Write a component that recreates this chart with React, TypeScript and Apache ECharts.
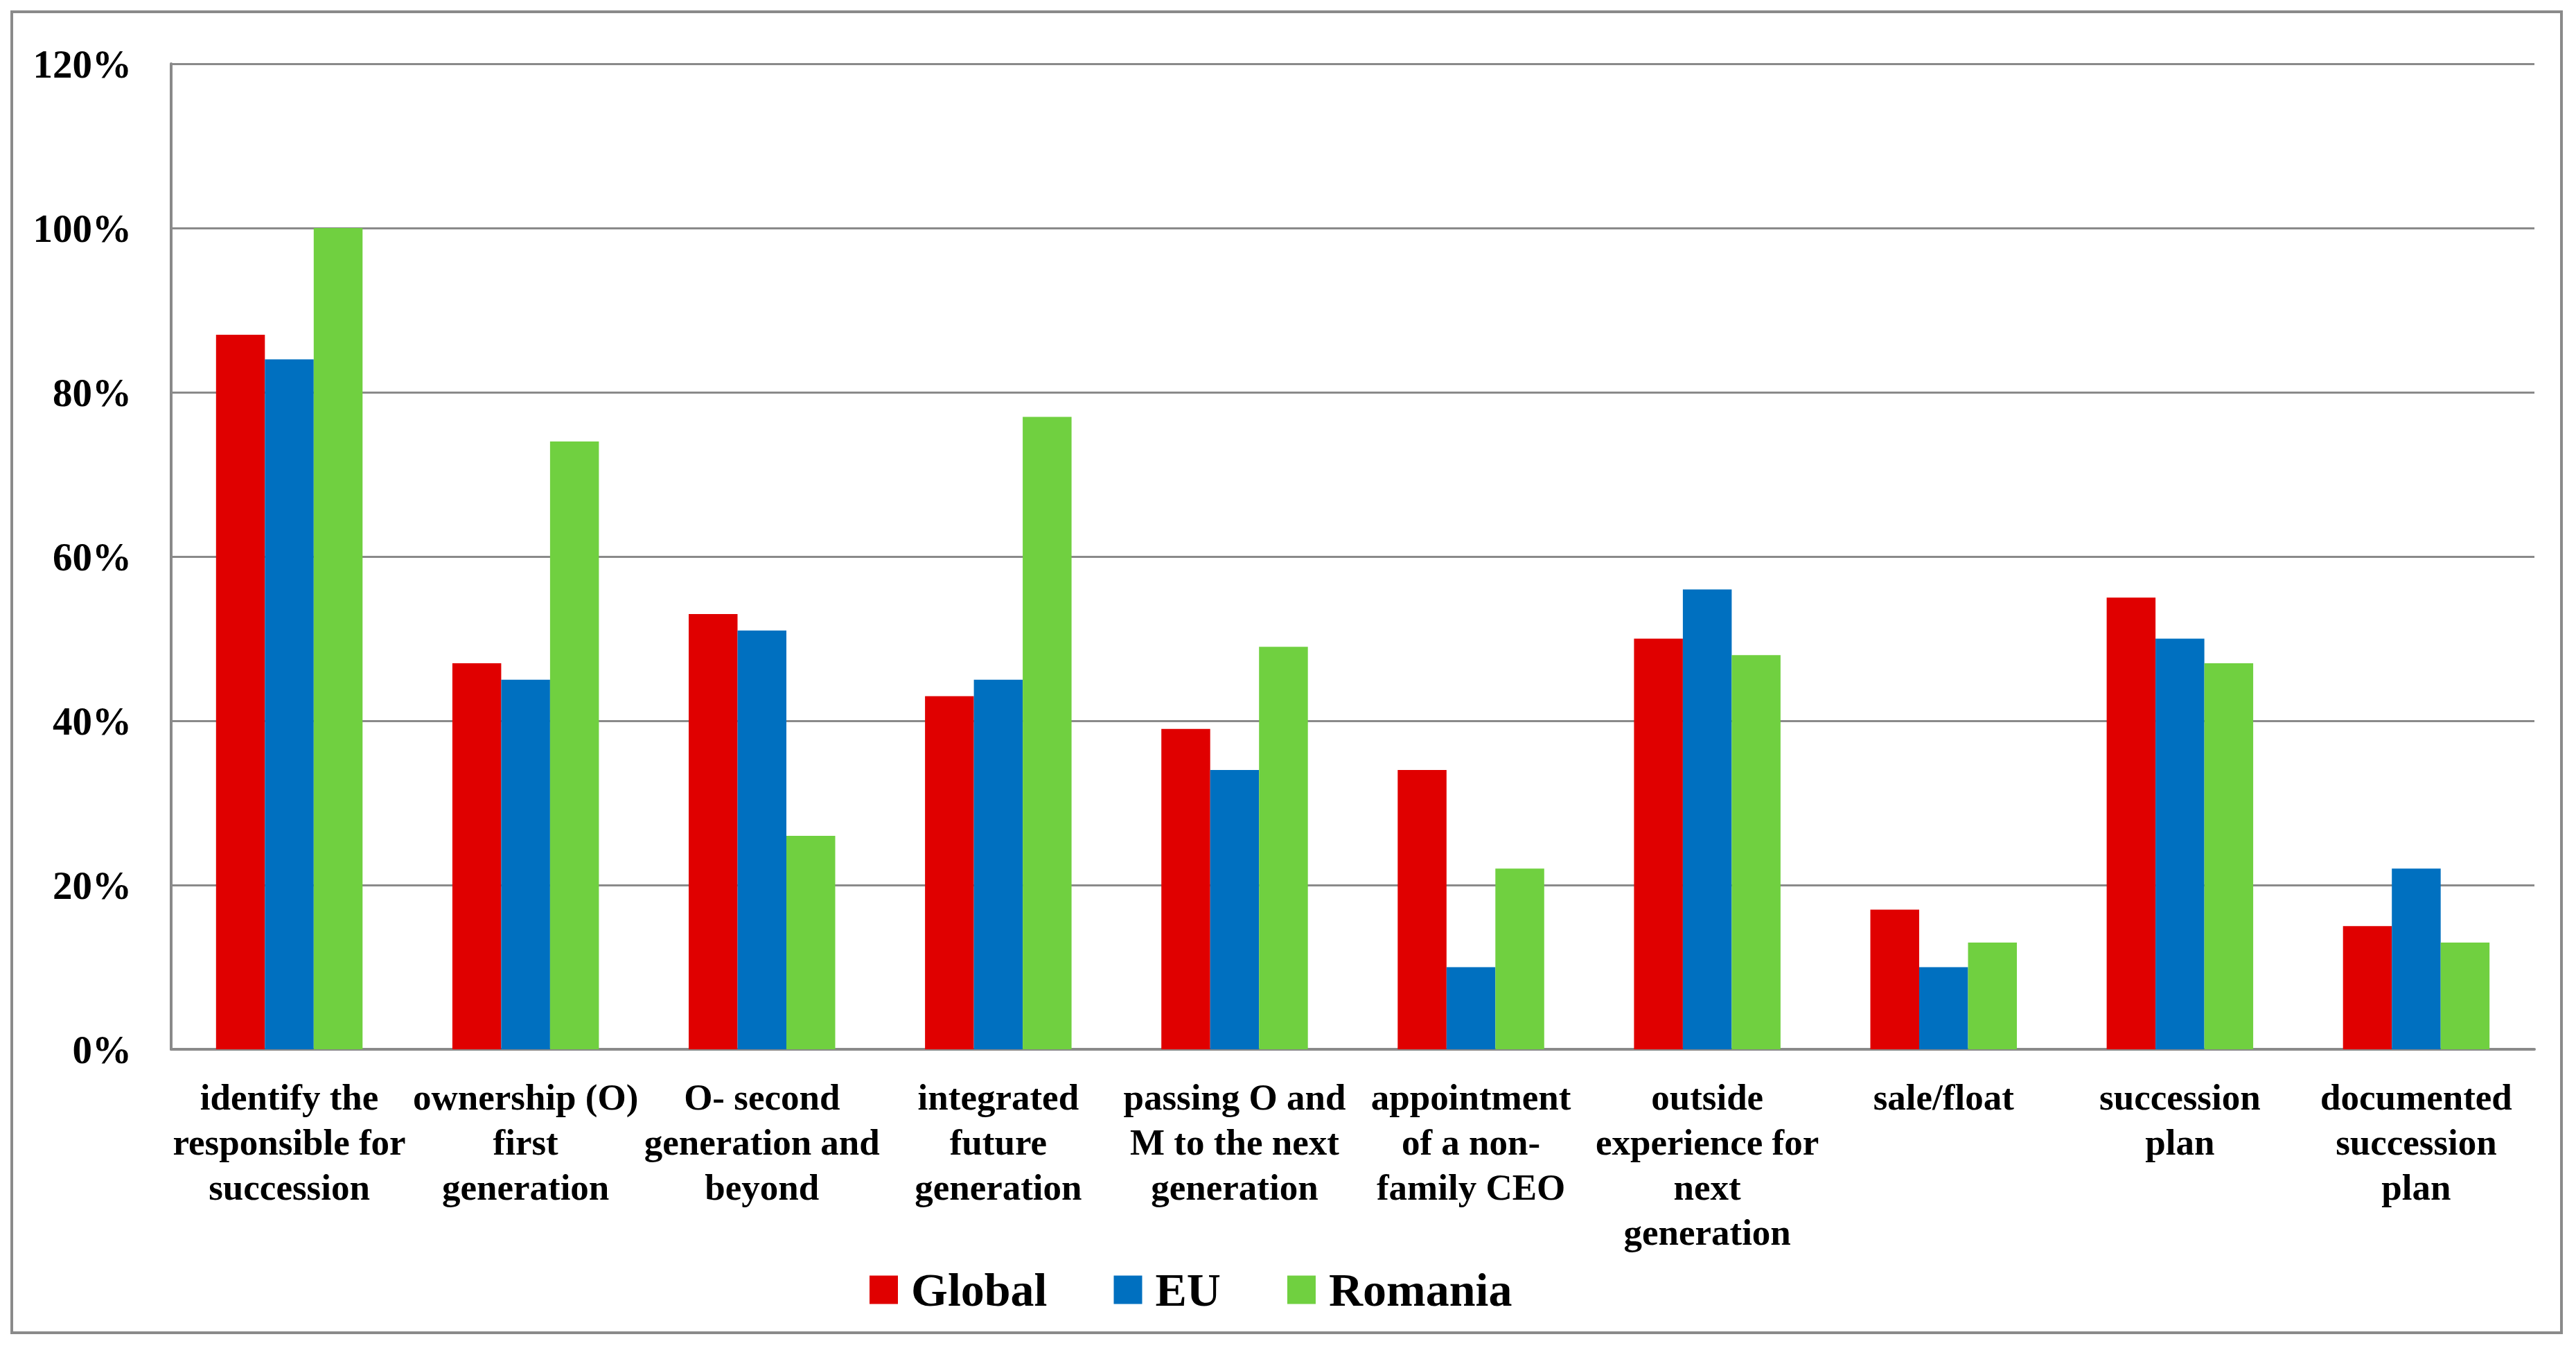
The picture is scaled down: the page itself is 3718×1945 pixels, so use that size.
import React, { useEffect, useRef } from "react";
import * as echarts from "echarts";

const categories = [
  "identify the\nresponsible for\nsuccession",
  "ownership (O)\nfirst\ngeneration",
  "O- second\ngeneration and\nbeyond",
  "integrated\nfuture\ngeneration",
  "passing O and\nM to the next\ngeneration",
  "appointment\nof a non-\nfamily CEO",
  "outside\nexperience for\nnext\ngeneration",
  "sale/float",
  "succession\nplan",
  "documented\nsuccession\nplan",
];

const globalValues = [87, 47, 53, 43, 39, 34, 50, 17, 55, 15];
const euValues = [84, 45, 51, 45, 34, 10, 56, 10, 50, 22];
const romaniaValues = [100, 74, 26, 77, 49, 22, 48, 13, 47, 13];

const seriesNames = ["Global", "EU", "Romania"];
const colors = ["#E00000", "#0070C0", "#70D040"];

const FONT = "Liberation Serif";

export default function App() {
  const ref = useRef<HTMLDivElement>(null);

  useEffect(() => {
    if (!ref.current) return;
    const chart = echarts.init(ref.current, null, { renderer: "svg" });
    const dataSets = [globalValues, euValues, romaniaValues];
    chart.setOption({
      animation: false,
      backgroundColor: "#ffffff",
      textStyle: { fontFamily: FONT },
      graphic: [
        {
          type: "rect",
          shape: { x: 17, y: 17, width: 3680, height: 1906 },
          style: { fill: "none", stroke: "#8a8a8a", lineWidth: 4 },
          silent: true,
        },
      ],
      legend: {
        left: 1250,
        top: 1822,
        itemWidth: 41,
        itemHeight: 41,
        itemGap: 96,
        icon: "rect",
        data: seriesNames,
        textStyle: {
          fontFamily: FONT,
          fontWeight: "bold",
          fontSize: 68,
          color: "#000",
          padding: [0, 0, 0, 14],
        },
      },
      grid: { left: 247, right: 60, top: 92, bottom: 431, containLabel: false },
      xAxis: {
        type: "category",
        data: categories,
        axisLine: { show: true, lineStyle: { color: "#8a8a8a", width: 4 } },
        axisTick: { show: false },
        axisLabel: {
          interval: 0,
          margin: 36,
          fontFamily: FONT,
          fontWeight: "bold",
          fontSize: 53,
          lineHeight: 65,
          color: "#000",
          align: "center",
        },
      },
      yAxis: {
        type: "value",
        min: 0,
        max: 120,
        interval: 20,
        axisLine: { show: true, lineStyle: { color: "#8a8a8a", width: 4 } },
        axisTick: { show: false },
        splitLine: { show: true, lineStyle: { color: "#8a8a8a", width: 3 } },
        axisLabel: {
          formatter: "{value}%",
          margin: 57,
          fontFamily: FONT,
          fontWeight: "bold",
          fontSize: 57,
          color: "#000",
        },
      },
      series: seriesNames.map((name, i) => ({
        name,
        type: "bar",
        data: dataSets[i],
        itemStyle: { color: colors[i] },
        barGap: "0%",
        barCategoryGap: "38%",
      })),
    });
    return () => chart.dispose();
  }, []);

  return (
    <div
      ref={ref}
      style={{ position: "absolute", left: 0, top: 0, width: 3718, height: 1945 }}
    />
  );
}
